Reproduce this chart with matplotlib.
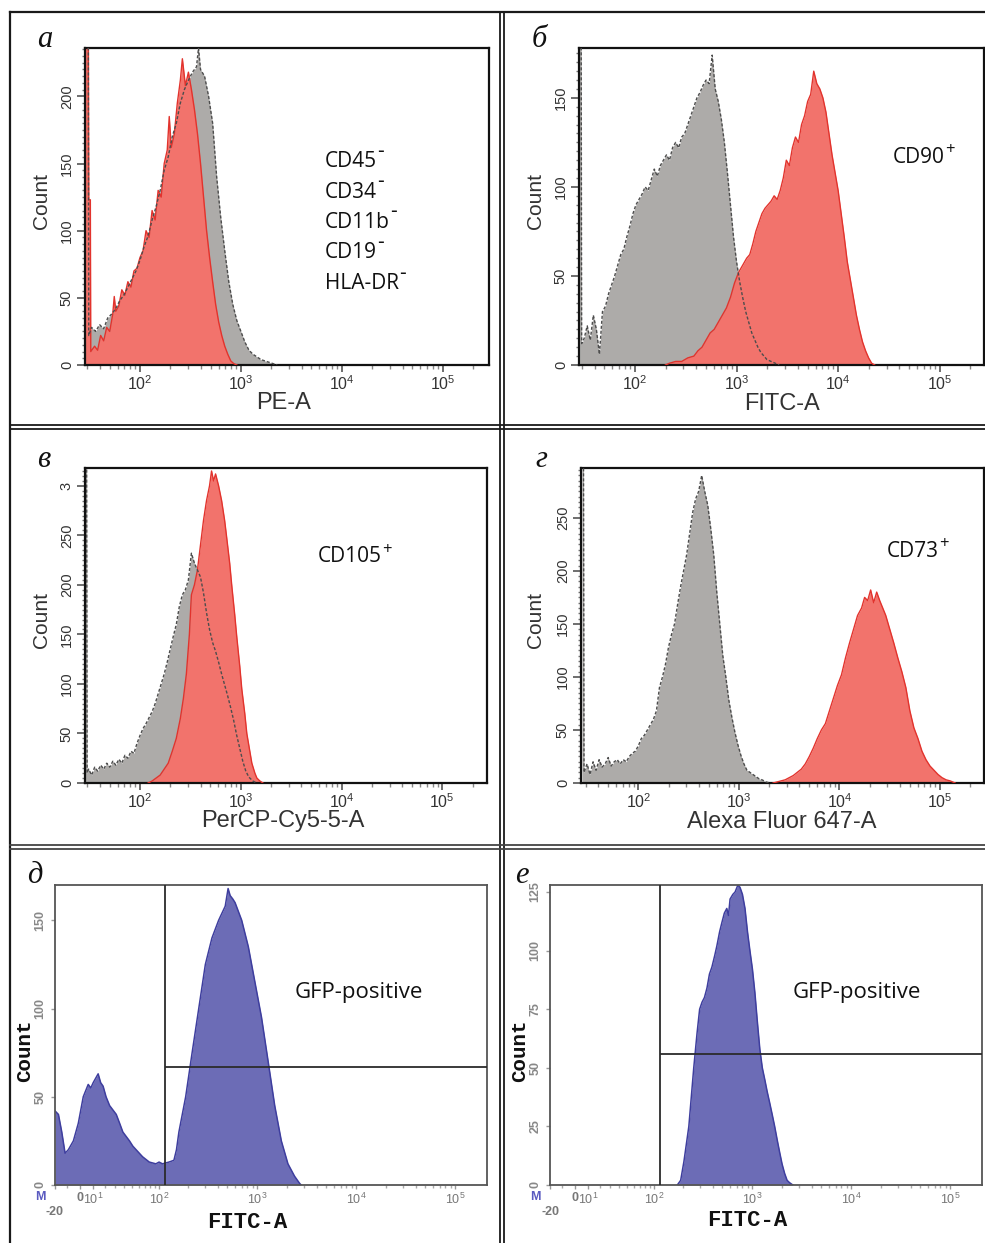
import numpy as np
import matplotlib
matplotlib.use('Agg')
import matplotlib.pyplot as plt
from matplotlib.lines import Line2D
from matplotlib.text import Annotation
from matplotlib.ticker import FixedLocator, FixedFormatter, MultipleLocator, LogLocator, NullFormatter

plt.rcParams['mathtext.fontset'] = 'custom'
plt.rcParams['mathtext.rm'] = 'Liberation Sans'
plt.rcParams['mathtext.it'] = 'Liberation Sans:italic'
plt.rcParams['mathtext.bf'] = 'Liberation Sans:bold'
plt.rcParams['font.family'] = ['Liberation Sans', 'DejaVu Sans']

# ---------------- data (x: log10 of intensity, y: count) ----------------
pe_gray = [(1.455, 260), (1.488, 260), (1.492, 22), (1.52, 28), (1.56, 25), (1.60, 30), (1.64, 27),
           (1.68, 35), (1.72, 38), (1.76, 42), (1.80, 48), (1.84, 52), (1.88, 58), (1.92, 64), (1.96, 70),
           (2.00, 78), (2.04, 88), (2.08, 96), (2.12, 108), (2.16, 118), (2.20, 130), (2.24, 145),
           (2.28, 155), (2.32, 170), (2.36, 180), (2.40, 195), (2.44, 205), (2.48, 212), (2.52, 218),
           (2.56, 222), (2.58, 236), (2.60, 220), (2.64, 215), (2.68, 200), (2.72, 180), (2.76, 140),
           (2.80, 110), (2.84, 85), (2.88, 62), (2.92, 45), (2.96, 33), (3.00, 25), (3.04, 17),
           (3.08, 11), (3.12, 8), (3.16, 6), (3.20, 4), (3.24, 3), (3.28, 2), (3.32, 1), (3.36, 0)]
pe_red = [(1.455, 260), (1.488, 260), (1.492, 123), (1.508, 123), (1.512, 10), (1.55, 14), (1.58, 11),
          (1.61, 22), (1.64, 18), (1.67, 28), (1.70, 25), (1.73, 38), (1.745, 51), (1.76, 40), (1.79, 44),
          (1.82, 56), (1.85, 52), (1.88, 62), (1.91, 58), (1.94, 70), (1.97, 72), (2.00, 80), (2.03, 85),
          (2.06, 100), (2.09, 95), (2.12, 115), (2.15, 108), (2.18, 130), (2.21, 125), (2.24, 150),
          (2.27, 160), (2.29, 185), (2.31, 162), (2.34, 172), (2.37, 195), (2.40, 212), (2.42, 228),
          (2.45, 208), (2.48, 218), (2.51, 205), (2.54, 190), (2.57, 172), (2.60, 150), (2.63, 125),
          (2.66, 100), (2.69, 80), (2.72, 62), (2.75, 45), (2.78, 32), (2.81, 22), (2.84, 14),
          (2.87, 8), (2.90, 3), (2.93, 1), (2.96, 0)]

cd90_gray = [(1.455, 200), (1.47, 200), (1.475, 12), (1.50, 15), (1.53, 22), (1.56, 14), (1.59, 28),
             (1.62, 20), (1.65, 6), (1.68, 30), (1.71, 33), (1.74, 40), (1.77, 45), (1.80, 50), (1.83, 56),
             (1.86, 62), (1.89, 65), (1.92, 72), (1.95, 78), (1.98, 85), (2.01, 90), (2.04, 93), (2.07, 96),
             (2.10, 100), (2.13, 98), (2.16, 104), (2.19, 110), (2.22, 106), (2.25, 112), (2.28, 115),
             (2.31, 118), (2.34, 115), (2.37, 122), (2.40, 125), (2.43, 122), (2.46, 128), (2.49, 130),
             (2.52, 135), (2.55, 140), (2.58, 145), (2.61, 150), (2.64, 153), (2.67, 157), (2.70, 160),
             (2.73, 158), (2.76, 174), (2.79, 155), (2.82, 148), (2.85, 138), (2.88, 125), (2.91, 108),
             (2.94, 90), (2.97, 72), (3.00, 58), (3.03, 47), (3.06, 38), (3.09, 30), (3.12, 24),
             (3.15, 18), (3.18, 14), (3.21, 10), (3.24, 7), (3.27, 5), (3.30, 3), (3.34, 2), (3.38, 1),
             (3.42, 0)]
cd90_red = [(2.30, 0), (2.34, 1), (2.40, 2), (2.46, 2), (2.52, 4), (2.58, 5), (2.62, 8), (2.66, 10),
            (2.70, 14), (2.74, 18), (2.78, 20), (2.82, 24), (2.86, 28), (2.90, 32), (2.94, 38), (2.98, 46),
            (3.02, 52), (3.06, 56), (3.10, 60), (3.13, 62), (3.16, 68), (3.19, 75), (3.22, 80), (3.25, 85),
            (3.28, 88), (3.31, 90), (3.34, 92), (3.37, 95), (3.40, 93), (3.43, 98), (3.46, 105),
            (3.49, 115), (3.52, 112), (3.55, 122), (3.58, 128), (3.61, 125), (3.64, 135), (3.67, 140),
            (3.70, 148), (3.73, 152), (3.76, 165), (3.79, 158), (3.82, 155), (3.85, 150), (3.88, 142),
            (3.91, 130), (3.94, 118), (3.97, 108), (4.00, 98), (4.03, 85), (4.06, 72), (4.09, 58),
            (4.12, 48), (4.15, 38), (4.18, 28), (4.21, 20), (4.24, 13), (4.27, 8), (4.30, 4), (4.33, 1),
            (4.36, 0)]

cd105_gray = [(1.455, 330), (1.47, 330), (1.475, 10), (1.49, 14), (1.52, 8), (1.55, 16), (1.58, 12),
              (1.61, 18), (1.64, 14), (1.67, 20), (1.70, 16), (1.73, 22), (1.76, 18), (1.79, 24), (1.82, 20),
              (1.85, 28), (1.88, 25), (1.91, 32), (1.94, 30), (1.97, 40), (2.00, 48), (2.03, 55), (2.06, 60),
              (2.09, 66), (2.12, 72), (2.15, 80), (2.18, 90), (2.21, 100), (2.24, 110), (2.27, 122),
              (2.30, 135), (2.33, 148), (2.36, 160), (2.39, 178), (2.42, 190), (2.45, 195), (2.48, 205),
              (2.51, 232), (2.54, 222), (2.57, 215), (2.60, 208), (2.63, 192), (2.66, 172), (2.69, 155),
              (2.72, 142), (2.75, 133), (2.78, 122), (2.81, 110), (2.84, 99), (2.87, 88), (2.90, 76),
              (2.93, 63), (2.96, 48), (2.99, 35), (3.02, 22), (3.05, 12), (3.08, 6), (3.12, 2), (3.16, 0)]
cd105_red = [(2.08, 0), (2.12, 2), (2.16, 5), (2.20, 8), (2.24, 14), (2.28, 20), (2.32, 32), (2.36, 45),
             (2.40, 65), (2.43, 85), (2.46, 110), (2.49, 150), (2.51, 190), (2.54, 200), (2.57, 215),
             (2.60, 240), (2.63, 265), (2.66, 285), (2.69, 300), (2.71, 315), (2.73, 305), (2.75, 312),
             (2.78, 300), (2.81, 285), (2.84, 265), (2.86, 248), (2.89, 222), (2.91, 200), (2.94, 170),
             (2.96, 148), (2.99, 118), (3.01, 95), (3.04, 70), (3.06, 50), (3.09, 32), (3.11, 20),
             (3.14, 10), (3.16, 5), (3.19, 2), (3.22, 0)]

cd73_gray = [(1.44, 300), (1.455, 300), (1.46, 10), (1.49, 18), (1.52, 8), (1.55, 20), (1.58, 12),
             (1.61, 22), (1.64, 15), (1.67, 18), (1.70, 24), (1.73, 16), (1.76, 20), (1.79, 22), (1.82, 18),
             (1.85, 22), (1.88, 20), (1.91, 25), (1.94, 28), (1.97, 30), (2.00, 35), (2.03, 42), (2.06, 45),
             (2.09, 50), (2.12, 55), (2.15, 60), (2.18, 68), (2.21, 90), (2.24, 100), (2.27, 112),
             (2.30, 128), (2.33, 140), (2.36, 150), (2.39, 168), (2.42, 185), (2.45, 200), (2.48, 215),
             (2.51, 235), (2.54, 255), (2.57, 268), (2.60, 275), (2.63, 290), (2.66, 275), (2.69, 262),
             (2.72, 240), (2.75, 215), (2.78, 180), (2.81, 150), (2.84, 120), (2.87, 100), (2.90, 78),
             (2.93, 62), (2.96, 48), (2.99, 36), (3.02, 26), (3.05, 18), (3.08, 12), (3.11, 10),
             (3.14, 8), (3.17, 6), (3.20, 4), (3.23, 3), (3.27, 1), (3.31, 0)]
cd73_red = [(3.34, 0), (3.38, 1), (3.42, 2), (3.46, 3), (3.50, 5), (3.54, 7), (3.58, 10), (3.62, 13),
            (3.66, 18), (3.70, 25), (3.74, 33), (3.78, 42), (3.82, 50), (3.86, 56), (3.90, 68), (3.94, 80),
            (3.98, 92), (4.02, 102), (4.06, 118), (4.10, 132), (4.14, 145), (4.18, 158), (4.22, 165),
            (4.25, 175), (4.28, 172), (4.31, 182), (4.34, 170), (4.37, 180), (4.40, 172), (4.43, 165),
            (4.46, 158), (4.50, 145), (4.54, 132), (4.58, 118), (4.62, 105), (4.66, 90), (4.70, 68),
            (4.74, 52), (4.78, 42), (4.82, 30), (4.86, 22), (4.90, 16), (4.94, 12), (4.98, 8), (5.02, 5),
            (5.06, 3), (5.10, 2), (5.15, 0)]

# GFP panels: x is FITC intensity (biexponential axis), y is count
gfp1 = [(-20, 42), (-17, 40), (-14.2, 30), (-11.5, 18), (-8.9, 20), (-5.0, 25), (-1.25, 35), (2.5, 50),
        (6.3, 57), (8.3, 55), (10.2, 58), (14.2, 63), (16.3, 58), (18.4, 56), (21, 50), (24.3, 45),
        (30.9, 40), (34.5, 35), (38.2, 30), (46.4, 25), (51, 22), (55.7, 20), (66.1, 16), (78.4, 13),
        (92.4, 12), (100, 13), (108.6, 12), (127, 13), (143, 14), (152, 20), (161, 30), (189, 50),
        (220, 75), (257, 100), (300, 125), (350, 140), (409, 150), (477, 158), (510, 168), (535, 164),
        (570, 162), (600, 160), (700, 150), (817, 135), (952, 115), (1110, 95), (1295, 70), (1509, 45),
        (1760, 25), (2052, 12), (2392, 5), (2685, 1), (2788, 0)]
gfp2 = [(174.5, 0), (189, 2), (204, 10), (229, 25), (257, 50), (278, 65), (295, 75), (312, 78), (330, 80),
        (350, 84), (371, 90), (393, 93), (420, 98), (441, 102), (470, 108), (496, 112), (525, 116),
        (556, 118), (578, 115), (600, 122), (640, 124), (674, 125), (720, 128), (756, 127), (800, 124),
        (849, 118), (900, 108), (952, 100), (1010, 92), (1069, 82), (1130, 70), (1199, 58), (1270, 50),
        (1345, 45), (1420, 40), (1509, 35), (1600, 30), (1693, 25), (1800, 19), (1900, 14), (2010, 9),
        (2132, 5), (2260, 2), (2392, 1), (2584, 0)]

log_ticks = [1e2, 1e3, 1e4, 1e5]
log_tick_labels = ['$10^{2}$', '$10^{3}$', '$10^{4}$', '$10^{5}$']
bi_ticks = [-20, 0, 10, 1e2, 1e3, 1e4, 1e5]
bi_tick_labels = ['\n-20', '0', '$10^{1}$', '$10^{2}$', '$10^{3}$', '$10^{4}$', '$10^{5}$']

# ---------------- figure ----------------
W, H = 985, 1243
fig = plt.figure(figsize=(W / 100, H / 100), dpi=100)
fig.patch.set_facecolor('white')


def px_axes(box):
    l, t, r, b = box
    return fig.add_axes([l / W, 1 - b / H, (r - l) / W, (b - t) / H])


def ftext(x, y, s, **kw):
    return fig.text(x / W, 1 - y / H, s, **kw)


def fline(x0, y0, x1, y1, lw=1.6, color='#1a1a1a'):
    fig.add_artist(Line2D([x0 / W, x1 / W], [1 - y0 / H, 1 - y1 / H],
                          transform=fig.transFigure, lw=lw, color=color))


def frac(box, px, py):
    l, t, r, b = box
    return (px - l) / (r - l), (b - py) / (b - t)


ANN_FAMILY = ['Open Sans', 'DejaVu Sans']


def marker_text(x, y, main, sup, size=15):
    t = ftext(x, y, main, fontsize=size, family=ANN_FAMILY, color='#111', va='baseline', ha='left')
    if sup == '-':
        s, fs, raise_px = '-', 15, 10.5
    else:
        s, fs, raise_px = '+', 12, 8.5
    a = Annotation(s, xy=(1.0, H - y + raise_px), xycoords=(t, 'figure pixels'),
                   xytext=(0.3, 0), textcoords='offset points', fontsize=fs, family=ANN_FAMILY,
                   color='#111', va='baseline', ha='left')
    fig.add_artist(a)


GRAY_FILL = '#ADABA9'
GRAY_EDGE = '#4d4d4d'
RED_FILL = '#F2736C'
RED_EDGE = '#E2332D'
BLUE_FILL = '#6C6CB6'
BLUE_EDGE = '#3E3E9E'


def flow_panel(box, xlim_log, gray, red, ymax, yticks, ylabels, xlabel, ylab_xy, xlab_xy):
    ax = px_axes(box)
    gx = 10 ** np.array([p[0] for p in gray]); gy = np.array([p[1] for p in gray])
    rx = 10 ** np.array([p[0] for p in red]); ry = np.array([p[1] for p in red])
    ax.fill_between(gx, gy, 0, color=GRAY_FILL, lw=0, zorder=1)
    ax.fill_between(rx, ry, 0, color=RED_FILL, lw=0, zorder=2)
    ax.plot(rx, ry, color=RED_EDGE, lw=1.0, zorder=3)
    ax.plot(gx, gy, color=GRAY_EDGE, lw=1.0, ls=(0, (2.2, 1.4)), zorder=4)
    ax.set_xscale('log')
    ax.set_xlim(10 ** xlim_log[0], 10 ** xlim_log[1])
    ax.set_ylim(0, ymax)
    ax.xaxis.set_major_locator(FixedLocator(log_ticks))
    ax.xaxis.set_major_formatter(FixedFormatter(log_tick_labels))
    ax.xaxis.set_minor_locator(LogLocator(base=10, subs=np.arange(2, 10)))
    ax.xaxis.set_minor_formatter(NullFormatter())
    ax.yaxis.set_major_locator(FixedLocator(yticks))
    ax.yaxis.set_major_formatter(FixedFormatter(ylabels))
    ax.yaxis.set_minor_locator(MultipleLocator(5))
    ax.tick_params(axis='x', which='major', direction='out', length=5, width=1.2, color='#555',
                   labelsize=11.5, labelcolor='#333', pad=2)
    ax.tick_params(axis='x', which='minor', direction='out', length=3, width=1.0, color='#888')
    ax.tick_params(axis='y', which='major', direction='out', length=6, width=1.2, color='#555',
                   labelsize=10.5, labelcolor='#333', pad=2, labelrotation=90)
    ax.tick_params(axis='y', which='minor', direction='out', length=2.5, width=1.0, color='#777')
    for lbl in ax.get_yticklabels():
        lbl.set_va('center')
    for s in ax.spines.values():
        s.set_linewidth(1.6)
        s.set_color('#111')
    ax.set_ylabel('Count', fontsize=15, color='#333')
    ax.yaxis.set_label_coords(*frac(box, *ylab_xy))
    ax.yaxis.label.set_va('center')
    ax.set_xlabel(xlabel, fontsize=17, color='#333')
    ax.xaxis.set_label_coords(*frac(box, *xlab_xy))
    ax.xaxis.label.set_va('center')
    ax.set_facecolor('white')
    return ax


def gfp_panel(box, data, ymax, yticks, gate_x, gate_y, ylab_xy, xlab_xy, m_xy):
    ax = px_axes(box)
    bx = np.array([p[0] for p in data]); by = np.array([p[1] for p in data])
    ax.set_xscale('asinh', linear_width=32.6)
    ax.fill_between(bx, by, 0, color=BLUE_FILL, lw=0, zorder=1)
    ax.plot(bx, by, color=BLUE_EDGE, lw=1.1, zorder=2)
    xmax = 2.1e5
    ax.set_xlim(-20, xmax)
    ax.set_ylim(0, ymax)
    ax.axvline(gate_x, color='#2b2b2b', lw=1.3, zorder=3)
    ax.hlines(gate_y, gate_x, xmax, color='#2b2b2b', lw=1.3, zorder=3)
    ax.xaxis.set_major_locator(FixedLocator(bi_ticks))
    ax.xaxis.set_major_formatter(FixedFormatter(bi_tick_labels))
    minors = [-10] + [m * 10 ** e for e in range(1, 5) for m in range(2, 10)]
    ax.xaxis.set_minor_locator(FixedLocator(minors))
    ax.xaxis.set_minor_formatter(NullFormatter())
    ax.yaxis.set_major_locator(FixedLocator(yticks))
    ax.yaxis.set_major_formatter(FixedFormatter([str(v) for v in yticks]))
    ax.tick_params(axis='x', which='major', direction='out', length=3, width=1.0, color='#999',
                   labelsize=9, labelcolor='#777', pad=2)
    ax.tick_params(axis='x', which='minor', direction='out', length=2.5, width=1.0, color='#aaa')
    ax.tick_params(axis='y', which='major', direction='out', length=3, width=1.0, color='#999',
                   labelsize=9, labelcolor='#888', pad=3, labelrotation=90)
    for lbl in ax.get_xticklabels() + ax.get_yticklabels():
        lbl.set_fontweight('bold')
    for lbl in ax.get_yticklabels():
        lbl.set_va('center')
    for s in ax.spines.values():
        s.set_linewidth(1.3)
        s.set_color('#555')
    ax.set_ylabel('Count', fontsize=15, fontweight='bold', family='Liberation Mono', color='#111')
    ax.yaxis.set_label_coords(*frac(box, *ylab_xy))
    ax.yaxis.label.set_va('center')
    ax.set_xlabel('FITC-A', fontsize=16, fontweight='bold', family='Liberation Mono', color='#111')
    ax.xaxis.set_label_coords(*frac(box, *xlab_xy))
    ax.xaxis.label.set_va('center')
    ftext(m_xy[0], m_xy[1], 'M', fontsize=9, fontweight='bold', color='#5a5ac0', ha='center', va='center')
    return ax


# panel frames
fline(10, 12, 985, 12)
fline(10, 12, 10, 1243)
fline(500, 12, 500, 1243, lw=1.3)
fline(503.5, 12, 503.5, 1243, lw=1.3)
fline(10, 425, 985, 425, lw=1.3)
fline(10, 428.5, 985, 428.5, lw=1.3)
fline(10, 845, 985, 845, lw=1.3, color='#444')
fline(10, 848.5, 985, 848.5, lw=1.3, color='#444')

box_a = (85, 48, 489, 365)
box_b = (579, 48, 984, 365)
box_v = (85, 468, 487, 783)
box_g = (581, 468, 984, 783)
box_d = (55, 885, 487, 1185)
box_e = (550, 885, 982, 1185)

flow_panel(box_a, (1.455, 5.459), pe_gray, pe_red, 236, [0, 50, 100, 150, 200],
           ['0', '50', '100', '150', '200'], 'PE-A', (41, 201), (284, 403))
flow_panel(box_b, (1.449, 5.436), cd90_gray, cd90_red, 178, [0, 50, 100, 150],
           ['0', '50', '100', '150'], 'FITC-A', (536, 201), (782, 404))
flow_panel(box_v, (1.454, 5.444), cd105_gray, cd105_red, 318, [0, 50, 100, 150, 200, 250, 300],
           ['0', '50', '100', '150', '200', '250', '3'], 'PerCP-Cy5-5-A', (41, 620), (283, 821))
flow_panel(box_g, (1.43, 5.437), cd73_gray, cd73_red, 297, [0, 50, 100, 150, 200, 250],
           ['0', '50', '100', '150', '200', '250'], 'Alexa Fluor 647-A', (536, 620), (782, 822))

gfp_panel(box_d, gfp1, 170, [0, 50, 100, 150], 115, 67, (25, 1051), (247, 1223), (40, 1197))
gfp_panel(box_e, gfp2, 128, [0, 25, 50, 75, 100, 125], 115, 56, (520, 1051), (747, 1221), (535, 1197))

# marker annotations
for i, s in enumerate(['CD45', 'CD34', 'CD11b', 'CD19', 'HLA-DR']):
    marker_text(325, 167 + i * 30.5, s, '-')
marker_text(893, 163, 'CD90', '+')
marker_text(318, 562, 'CD105', '+')
marker_text(887, 557, 'CD73', '+')
ftext(295, 998, 'GFP-positive', fontsize=16, family=ANN_FAMILY, color='#111', va='baseline', ha='left')
ftext(793, 998, 'GFP-positive', fontsize=16, family=ANN_FAMILY, color='#111', va='baseline', ha='left')

# panel letters
let_font = dict(fontsize=22, family='Liberation Serif', style='italic', color='#111', va='baseline', ha='left')
ftext(37, 47, 'а', **let_font)
ftext(532, 47, 'б', **let_font)
ftext(37, 467, 'в', **let_font)
ftext(535, 467, 'г', **let_font)
ftext(27, 883, 'д', **let_font)
ftext(515, 883, 'е', **let_font)

fig.savefig('out.png', dpi=100, facecolor='white')
